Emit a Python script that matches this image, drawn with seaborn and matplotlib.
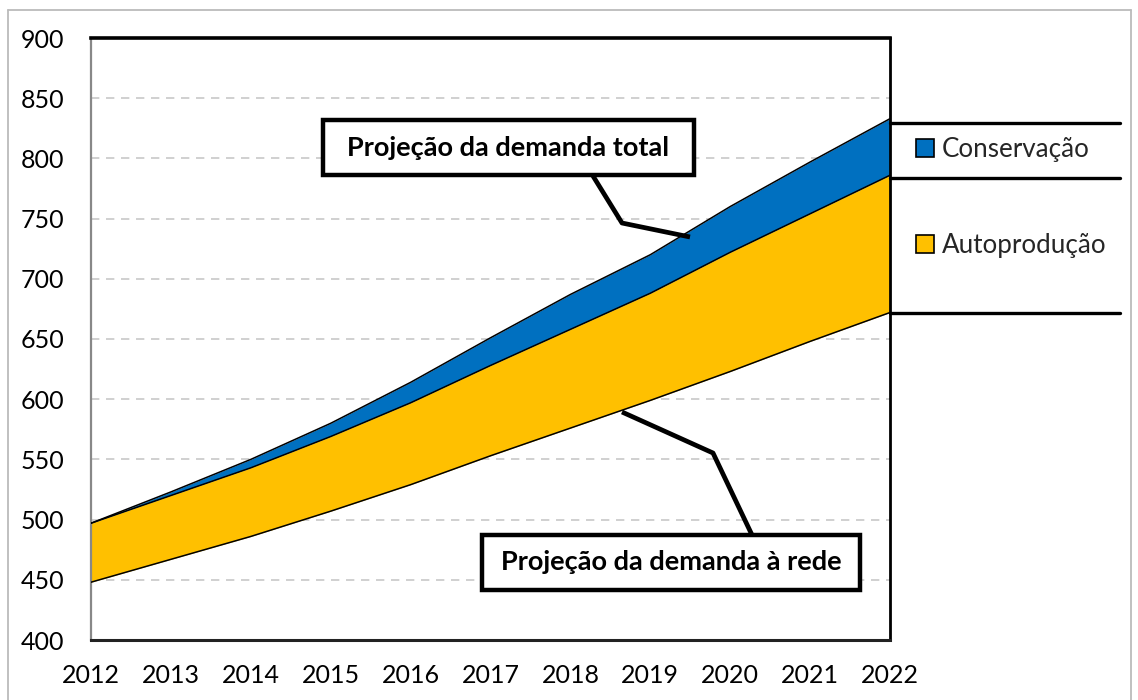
import matplotlib
matplotlib.use("Agg")
import matplotlib.pyplot as plt
import matplotlib.patches as mpatches
import matplotlib.lines as mlines
import seaborn as sns
import pandas as pd

# ---- data ----
years = [2012, 2013, 2014, 2015, 2016, 2017, 2018, 2019, 2020, 2021, 2022]
demanda_rede = [448, 467, 486, 507, 529, 553, 576, 599, 623, 648, 672]
rede_mais_autoproducao = [497, 520, 543, 569, 597, 628, 658, 688, 722, 754, 786]
demanda_total = [497, 523, 550, 580, 614, 651, 687, 720, 760, 797, 833]
y_ticks = [400, 450, 500, 550, 600, 650, 700, 750, 800, 850, 900]
legend_labels = ["Conservação", "Autoprodução"]
callout_total = "Projeção da demanda total"
callout_rede = "Projeção da demanda à rede"

df = pd.DataFrame({"ano": years, "rede": demanda_rede,
                   "auto": rede_mais_autoproducao, "total": demanda_total})

sns.set_theme(style="white")
plt.rcParams["font.family"] = ["Lato", "DejaVu Sans"]

W, H = 1138, 700
fig = plt.figure(figsize=(W / 100, H / 100), dpi=100)
ax = fig.add_axes([91 / W, 1 - 640 / H, (890 - 91) / W, (640 - 38) / H])

BLUE = "#0070C0"
YELLOW = "#FFC000"

ax.fill_between(df["ano"], df["auto"], df["total"], color=BLUE, lw=0, zorder=2)
ax.fill_between(df["ano"], df["rede"], df["auto"], color=YELLOW, lw=0, zorder=2)
for col in ["rede", "auto", "total"]:
    sns.lineplot(data=df, x="ano", y=col, ax=ax, color="black", lw=1.1, zorder=3)

ax.set_xlim(years[0], years[-1])
ax.set_ylim(y_ticks[0], y_ticks[-1])
ax.set_xticks(years)
ax.set_yticks(y_ticks)
ax.set_xlabel("")
ax.set_ylabel("")
ax.tick_params(axis="both", labelsize=18, colors="#888888", labelcolor="black",
               direction="out", length=6.5, width=1.3)
ax.tick_params(axis="x", pad=11)
ax.tick_params(axis="y", pad=13)
ax.grid(axis="y", color="#c8c8c8", ls=(0, (5, 4)), lw=1.2, zorder=1)
ax.set_axisbelow(True)

ax.spines["left"].set_color("#888888")
ax.spines["left"].set_linewidth(1.6)
ax.spines["bottom"].set_color("#222222")
ax.spines["bottom"].set_linewidth(2.2)
ax.spines["top"].set_color("black")
ax.spines["top"].set_linewidth(2.6)
ax.spines["right"].set_color("black")
ax.spines["right"].set_linewidth(2.0)

# callouts (pixel coordinates of the figure)
def fx(px):
    return px / W

def fy(py):
    return 1 - py / H

def callout(text, box, path):
    x0, y0, x1, y1 = box
    fig.patches.append(mpatches.Rectangle((fx(x0), fy(y1)), fx(x1) - fx(x0), fy(y0) - fy(y1),
                                          transform=fig.transFigure, fc="white",
                                          ec="black", lw=3.2, zorder=5))
    fig.text(fx((x0 + x1) / 2), fy((y0 + y1) / 2), text, ha="center", va="center",
             fontsize=19.5, fontweight="bold", color="black", zorder=6)
    xs = [fx(p[0]) for p in path]
    ys = [fy(p[1]) for p in path]
    fig.lines.append(mlines.Line2D(xs, ys, transform=fig.transFigure, color="black",
                                   lw=3.4, zorder=4, solid_capstyle="butt"))

callout(callout_total, (323, 120, 694, 175), [(593, 176), (622, 223), (690, 237)])
callout(callout_rede, (482, 535, 860, 590), [(752, 535), (713, 453), (622, 412)])

# legend area lines
for py in [123, 178, 313]:
    fig.lines.append(mlines.Line2D([fx(890), fx(1120)], [fy(py), fy(py)],
                                   transform=fig.transFigure, color="black", lw=2.4))

handles = [mpatches.Patch(fc=BLUE, ec="black", lw=1.2),
           mpatches.Patch(fc=YELLOW, ec="black", lw=1.2)]
fig.legend(handles, legend_labels, loc="upper left", bbox_to_anchor=(fx(916), fy(137)),
           bbox_transform=fig.transFigure, frameon=False, fontsize=18.7,
           handlelength=0.7, handleheight=0.7, handletextpad=0.3,
           labelspacing=2.75, borderpad=0, borderaxespad=0)

# outer frame
for (xa, ya, xb, yb) in [(8, 10, 1131, 10), (8, 10, 8, 700), (1131, 10, 1131, 700)]:
    fig.lines.append(mlines.Line2D([fx(xa), fx(xb)], [fy(ya), fy(yb)],
                                   transform=fig.transFigure, color="#bbbbbb", lw=1.3))

fig.savefig("out.png", dpi=100)
